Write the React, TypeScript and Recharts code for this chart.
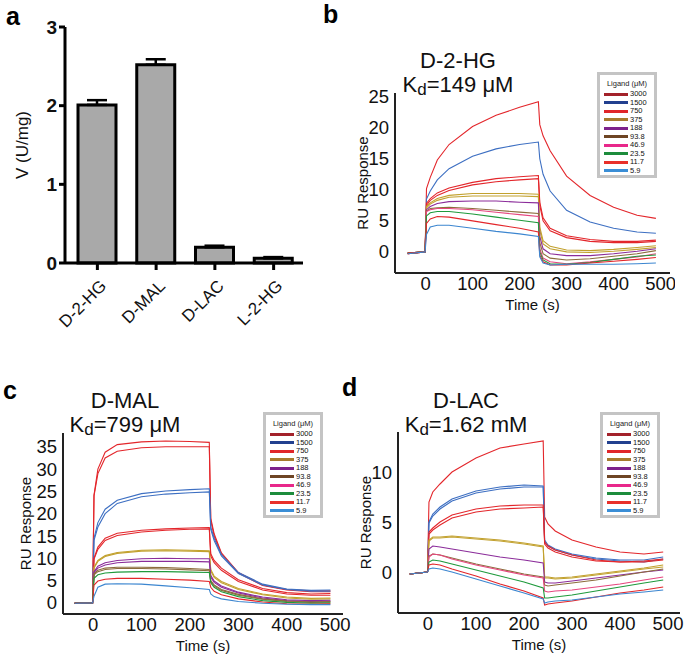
import React from 'react'
import { BarChart, Bar, ErrorBar, LineChart, Line, XAxis, YAxis } from 'recharts'

const FONT = '"Liberation Sans", Arial, Helvetica, sans-serif'

// ---- panel a: enzyme activity ----
const SUBSTRATES = ['D-2-HG', 'D-MAL', 'D-LAC', 'L-2-HG']
const ACTIVITY = [2.01, 2.52, 0.2, 0.06]
const ACTIVITY_ERR = [0.06, 0.07, 0.02, 0.015]

// ---- SPR sensorgrams, time points (s) shared by every trace ----
const TIMES = [-38, -1, 2, 10, 25, 50, 100, 150, 200, 240, 243, 250, 265, 300, 350, 400, 450, 490]
const X_TICKS = [0, 100, 200, 300, 400, 500]

const LIGANDS = ['3000', '1500', '750', '375', '188', '93.8', '46.9', '23.5', '11.7', '5.9']
const LIGAND_COLORS = ['#a3222a', '#22408f', '#e0262a', '#a67c2e', '#7d228c', '#6e4524', '#e8288a', '#1d8c3c', '#e8302a', '#3a8ed6']

const RED = '#e3262b'
const BLUE = '#3d6fc2'
const GOLD = '#c2a12e'
const PURPLE = '#8b2c9a'
const BROWN = '#8c6c3c'
const PINK = '#e6457e'
const GREEN = '#1f9a3c'
const LBLUE = '#3c86d0'

// b: D-2-HG
const HG_CURVES = [
  [-0.3, 0, 10.2, 12, 14.8, 17.3, 20.2, 22, 23.3, 24.2, 20.5, 18.7, 16.3, 12.2, 9.1, 7.2, 5.9, 5.4],
  [-0.2, 0, 8.5, 9.8, 11.6, 13.4, 15.4, 16.6, 17.3, 17.7, 15, 12.5, 9.8, 6.7, 4.8, 3.8, 3.2, 3.0],
  [-0.3, 0, 7.8, 8.6, 9.5, 10.3, 11.2, 11.8, 12.1, 12.3, 8, 5.5, 3.8, 2.6, 2.0, 1.7, 1.7, 1.9],
  [-0.3, 0, 7.5, 8.3, 9.1, 9.9, 10.8, 11.3, 11.6, 11.8, 7.5, 5.0, 3.4, 2.3, 1.7, 1.5, 1.5, 1.7],
  [-0.2, 0, 7.3, 7.9, 8.6, 9.1, 9.4, 9.4, 9.4, 9.3, 4, 1.8, 0.9, 0.3, 0.2, 0.4, 0.7, 1.0],
  [-0.2, 0, 7.1, 7.7, 8.3, 8.8, 9.0, 9.0, 9.0, 8.9, 3.5, 1.3, 0.5, 0.0, -0.1, 0.1, 0.4, 0.7],
  [-0.2, 0, 6.8, 7.3, 7.8, 8.1, 8.2, 8.2, 8.0, 7.9, 2.5, 0.5, -0.3, -0.6, -0.6, -0.3, 0.1, 0.5],
  [-0.2, 0, 6.6, 7.0, 7.1, 7.2, 7.0, 6.7, 6.4, 6.2, 1.5, -0.3, -1.0, -1.3, -1.1, -0.7, -0.3, 0.2],
  [-0.2, 0, 6.5, 6.8, 7.0, 7.0, 6.8, 6.4, 6.0, 5.7, 0.5, -1.0, -1.6, -1.9, -1.6, -1.2, -0.8, -0.3],
  [-0.2, 0, 5.8, 6.3, 6.5, 6.5, 6.1, 5.6, 5.1, 4.7, 0, -1.3, -1.9, -2.0, -1.7, -1.2, -0.7, -0.5],
  [-0.2, 0, 4.6, 5.3, 5.7, 5.6, 5.0, 4.4, 3.8, 3.2, -0.5, -1.6, -2.1, -2.1, -1.8, -1.5, -1.2, -0.9],
  [-0.3, 0, 2.8, 4.0, 4.3, 4.3, 3.8, 3.3, 2.9, 2.5, -0.8, -1.8, -2.1, -2.0, -2.0, -2.0, -1.9, -1.8],
]
const HG_COLORS = [RED, BLUE, RED, RED, GOLD, GOLD, PURPLE, BROWN, PINK, GREEN, RED, LBLUE]

// c: D-MAL
const MAL_CURVES = [
  [-0.1, 0, 24.2, 30, 33.8, 35.5, 36.1, 36.3, 36.2, 36.0, 19, 15.5, 11.2, 6.8, 4.0, 3.0, 2.7, 2.7],
  [-0.1, 0, 24, 29, 32.5, 34, 34.8, 35.0, 35.0, 35.0, 18.5, 15, 11.0, 6.7, 3.9, 2.9, 2.5, 2.5],
  [-0.1, 0, 14.5, 18, 21, 23, 24.5, 25.1, 25.4, 25.6, 17, 14.5, 10.8, 6.8, 4.2, 3.1, 2.8, 2.9],
  [-0.1, 0, 14, 17, 20, 22.3, 23.8, 24.4, 24.7, 24.9, 16.5, 14, 10.5, 6.6, 4.0, 3.0, 2.6, 2.6],
  [-0.1, 0, 10, 12.5, 14.5, 15.6, 16.3, 16.6, 16.8, 16.9, 11, 9.5, 7.8, 5.2, 3.2, 2.3, 2.0, 2.1],
  [-0.1, 0, 9.8, 12, 14, 15.1, 15.9, 16.3, 16.5, 16.6, 10.5, 9, 7.3, 4.8, 2.9, 2.0, 1.7, 1.7],
  [-0.1, 0, 8, 9.5, 10.6, 11.3, 11.8, 11.9, 11.8, 11.7, 7.5, 6.0, 4.8, 3.2, 2.0, 1.3, 1.0, 1.1],
  [-0.1, 0, 7.8, 9.3, 10.4, 11.1, 11.6, 11.7, 11.6, 11.5, 7.2, 5.7, 4.5, 3.0, 1.8, 1.1, 0.8, 0.9],
  [-0.1, 0, 7, 8.2, 9.0, 9.5, 9.9, 10.0, 9.9, 9.9, 6.2, 4.9, 3.8, 2.4, 1.3, 0.7, 0.5, 0.6],
  [-0.1, 0, 6.8, 7.8, 8.5, 9.0, 9.3, 9.3, 9.3, 9.2, 5.8, 4.6, 3.5, 2.2, 1.1, 0.5, 0.3, 0.4],
  [-0.1, 0, 6.5, 7.3, 7.8, 8.0, 8.0, 7.9, 7.7, 7.5, 5.0, 4.0, 3.0, 1.9, 0.9, 0.4, 0.2, 0.3],
  [-0.1, 0, 6.3, 7.0, 7.5, 7.7, 7.7, 7.6, 7.4, 7.2, 4.8, 3.8, 2.8, 1.7, 0.8, 0.3, 0.1, 0.2],
  [-0.1, 0, 5.5, 6.3, 6.7, 6.9, 7.0, 7.0, 6.9, 6.8, 4.5, 3.5, 2.5, 1.4, 0.5, 0.1, -0.1, 0.0],
  [-0.1, 0, 4.0, 4.9, 5.3, 5.5, 5.5, 5.3, 5.1, 4.8, 3.5, 2.6, 1.8, 0.9, 0.2, -0.2, -0.3, -0.2],
  [-0.1, 0, 1.5, 3.5, 4.2, 4.3, 4.2, 3.8, 3.4, 3.0, 2.0, 1.4, 0.9, 0.3, -0.1, -0.3, -0.4, -0.4],
]
const MAL_COLORS = [RED, RED, BLUE, BLUE, RED, RED, GOLD, GOLD, PURPLE, PURPLE, BROWN, BROWN, GREEN, RED, LBLUE]

// d: D-LAC
const LAC_CURVES = [
  [-0.2, 0, 7.0, 8.0, 8.8, 10.0, 11.4, 12.4, 12.8, 13.1, 5.5, 4.8, 4.1, 3.2, 2.5, 2.0, 1.8, 2.0],
  [-0.2, 0, 5.0, 5.8, 6.5, 7.3, 8.1, 8.5, 8.7, 8.6, 3.2, 2.7, 2.3, 1.8, 1.4, 1.2, 1.2, 1.5],
  [-0.2, 0, 4.9, 5.6, 6.3, 7.1, 7.9, 8.3, 8.5, 8.5, 3.0, 2.6, 2.2, 1.7, 1.3, 1.1, 1.0, 1.3],
  [-0.2, 0, 4.0, 4.4, 5.0, 5.7, 6.3, 6.6, 6.7, 6.7, 3.0, 2.6, 2.2, 1.7, 1.2, 1.0, 1.1, 1.3],
  [-0.2, 0, 3.8, 4.2, 4.7, 5.4, 6.0, 6.3, 6.4, 6.5, 2.8, 2.4, 2.0, 1.5, 1.1, 1.0, 1.0, 1.2],
  [-0.2, 0, 3.2, 3.5, 3.5, 3.6, 3.4, 3.2, 2.9, 2.6, -0.5, -0.5, -0.6, -0.5, -0.2, 0.1, 0.4, 0.7],
  [-0.2, 0, 3.1, 3.4, 3.4, 3.5, 3.3, 3.1, 2.8, 2.5, -0.6, -0.6, -0.7, -0.6, -0.3, 0.0, 0.3, 0.5],
  [-0.2, 0, 2.3, 2.6, 2.5, 2.3, 1.9, 1.5, 1.2, 0.9, -1.0, -1.1, -1.1, -0.9, -0.6, -0.3, 0.0, 0.2],
  [-0.2, 0, 1.6, 1.8, 1.7, 1.4, 0.8, 0.3, -0.2, -0.5, -1.3, -1.4, -1.3, -1.1, -0.8, -0.4, 0.0, 0.3],
  [-0.2, 0, 1.5, 1.8, 1.7, 1.3, 0.7, 0.2, -0.3, -0.6, -1.9, -2.0, -1.9, -1.8, -1.5, -1.2, -0.8, -0.5],
  [-0.2, 0, 1.0, 1.2, 1.1, 0.8, 0.2, -0.4, -1.0, -1.6, -2.6, -2.6, -2.5, -2.3, -1.9, -1.5, -1.1, -0.8],
  [-0.2, 0, 0.7, 0.8, 0.7, 0.3, -0.4, -1.2, -1.9, -2.6, -3.3, -3.2, -3.1, -2.9, -2.5, -2.1, -1.8, -1.5],
  [-0.2, 0, 0.3, 0.4, 0.3, 0.0, -0.7, -1.4, -2.1, -2.7, -3.1, -3.0, -2.9, -2.8, -2.5, -2.2, -2.0, -1.8],
]
const LAC_COLORS = [RED, BLUE, BLUE, RED, RED, GOLD, GOLD, PURPLE, BROWN, PINK, GREEN, RED, LBLUE]

const buildRows = (curves: number[][]) =>
  TIMES.map((t, i) => {
    const row: any = { t }
    curves.forEach((c, k) => { row['s' + k] = c[i] })
    return row
  })

// rotated axis title drawn from the axis viewBox
const YTitle = ({ viewBox, value, dx, size }: any) => {
  const x = viewBox.x + dx
  const y = viewBox.y + viewBox.height / 2
  return (
    <text x={x} y={y} transform={`rotate(-90 ${x} ${y})`} textAnchor="middle" dominantBaseline="central"
      fontFamily={FONT} fontSize={size} fill="#111">{value}</text>
  )
}

const SlantTick = ({ x, y, payload }: any) => (
  <text x={x + 10} y={y + 15} transform={`rotate(-45 ${x + 10} ${y + 15})`} textAnchor="end"
    fontFamily={FONT} fontSize={17} fill="#111">{payload.value}</text>
)

function Legend({ left, top }: { left: number, top: number }) {
  return (
    <div style={{ position: 'absolute', left, top, width: 54, height: 100, border: '3px solid #c4c4c4', background: '#fff', fontFamily: FONT, boxSizing: 'content-box' }}>
      <div style={{ fontSize: 7.5, lineHeight: '9px', textAlign: 'center', marginTop: 4, marginBottom: 2, color: '#222' }}>Ligand (μM)</div>
      {LIGANDS.map((l, i) => (
        <div key={l} style={{ display: 'flex', alignItems: 'center', height: 8.5 }}>
          <div style={{ width: 24, height: 3, background: LIGAND_COLORS[i], marginLeft: 4, marginRight: 2 }} />
          <span style={{ fontSize: 7.5, lineHeight: '8px', color: '#111' }}>{l}</span>
        </div>
      ))}
    </div>
  )
}

function Title({ x, y, name, kd }: { x: number, y: number, name: string, kd: string }) {
  const s: React.CSSProperties = { position: 'absolute', left: x, transform: 'translate(-50%, -50%)', fontFamily: FONT, fontSize: 22, lineHeight: '22px', height: 22, whiteSpace: 'nowrap', color: '#111' }
  return (
    <>
      <div style={{ ...s, top: y - 1 }}>{name}</div>
      <div style={{ ...s, top: y + 23 }}>K<span style={{ fontSize: 17, position: 'relative', top: 3 }}>d</span>={kd}</div>
    </>
  )
}

function PanelLetter({ x, y, ch }: { x: number, y: number, ch: string }) {
  return <div style={{ position: 'absolute', left: x, top: y, fontFamily: FONT, fontWeight: 'bold', fontSize: 25, lineHeight: 1 }}>{ch}</div>
}

function Sensorgram({ left, top, width, height, right, yw, curves, colors, xDomain, yDomain, yTicks, titleDx }: any) {
  const rows = buildRows(curves)
  const tickStyle = { fontSize: 18.5, fill: '#111', fontFamily: FONT }
  return (
    <div style={{ position: 'absolute', left, top }}>
      <LineChart width={width} height={height} data={rows} margin={{ top: 8, right, left: 0, bottom: 0 }}>
        <XAxis dataKey="t" type="number" domain={xDomain} ticks={X_TICKS} interval={0} allowDataOverflow height={40}
          axisLine={{ stroke: '#222', strokeWidth: 2 }} tickLine={false} tickSize={3} tickMargin={1} tick={tickStyle}
          label={{ value: 'Time (s)', position: 'insideBottom', offset: 3, style: { fontSize: 15, fill: '#111', fontFamily: FONT } }} />
        <YAxis type="number" domain={yDomain} ticks={yTicks} interval={0} allowDataOverflow width={yw}
          axisLine={{ stroke: '#222', strokeWidth: 2 }} tickLine={false} tickSize={3} tickMargin={3} tick={tickStyle}
          label={<YTitle value="RU Response" dx={titleDx} size={15} />} />
        {curves.map((_: any, k: number) => (
          <Line key={k} type="linear" dataKey={'s' + k} stroke={colors[k]} strokeWidth={1.1} dot={false} isAnimationActive={false} />
        ))}
      </LineChart>
    </div>
  )
}

export default function App() {
  const barData = SUBSTRATES.map((s, i) => ({ name: s, v: ACTIVITY[i], err: [0, ACTIVITY_ERR[i]] }))
  return (
    <div style={{ position: 'absolute', left: 0, top: 0, width: 685, height: 654, background: '#fff', overflow: 'hidden' }}>
      <PanelLetter x={6} y={4} ch="a" />
      <PanelLetter x={323} y={2} ch="b" />
      <PanelLetter x={3} y={378} ch="c" />
      <PanelLetter x={342} y={375} ch="d" />

      <div style={{ position: 'absolute', left: 0, top: 8 }}>
        <BarChart width={310} height={330} data={barData} margin={{ top: 19, right: 7, left: 0, bottom: 0 }} barCategoryGap="30%">
          <XAxis dataKey="name" height={75} padding={{ left: 3, right: 0 }} interval={0}
            axisLine={{ stroke: '#000', strokeWidth: 3 }} tickLine={{ stroke: '#000', strokeWidth: 3 }} tickSize={7} tick={<SlantTick />} />
          <YAxis type="number" domain={[0, 3]} ticks={[0, 1, 2, 3]} width={65} interval={0}
            axisLine={{ stroke: '#000', strokeWidth: 3 }} tickLine={{ stroke: '#000', strokeWidth: 3 }} tickSize={6} tickMargin={2}
            tick={{ fontSize: 19, fontWeight: 'bold', fill: '#111', fontFamily: FONT }}
            label={<YTitle value="V (U/mg)" dx={22} size={17} />} />
          <Bar dataKey="v" fill="#a9a9a9" stroke="#000" strokeWidth={3} barSize={38} isAnimationActive={false}>
            <ErrorBar dataKey="err" width={10} stroke="#000" strokeWidth={2.5} direction="y" />
          </Bar>
        </BarChart>
      </div>

      <Title x={458} y={62} name="D-2-HG" kd="149 μM" />
      <Sensorgram left={330} top={85} width={345} height={228} right={5} yw={65} curves={HG_CURVES} colors={HG_COLORS}
        xDomain={[-65, 520]} yDomain={[-3.4, 25.6]} yTicks={[0, 5, 10, 15, 20, 25]} titleDx={32} />
      <Legend left={597} top={72} />

      <Title x={125} y={402} name="D-MAL" kd="799 μM" />
      <Sensorgram left={0} top={425} width={356} height={229} right={13} yw={63} curves={MAL_CURVES} colors={MAL_COLORS}
        xDomain={[-62, 516]} yDomain={[-2.5, 38.1]} yTicks={[0, 5, 10, 15, 20, 25, 30, 35]} titleDx={25} />
      <Legend left={263} top={412} />

      <Title x={466} y={402} name="D-LAC" kd="1.62 mM" />
      <Sensorgram left={335} top={424} width={350} height={229} right={5} yw={63} curves={LAC_CURVES} colors={LAC_COLORS}
        xDomain={[-62.5, 525]} yDomain={[-4.1, 14]} yTicks={[0, 5, 10]} titleDx={30} />
      <Legend left={600} top={412} />
    </div>
  )
}
